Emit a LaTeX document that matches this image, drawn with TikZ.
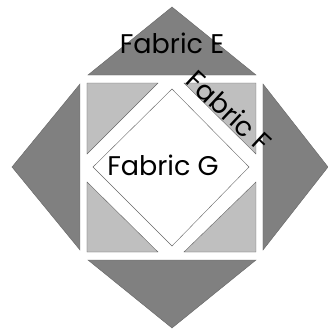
\documentclass[tikz,border=0pt]{standalone}
\usepackage{fontspec}
\setmainfont{Poppins}
\begin{document}
\begin{tikzpicture}[x=1pt,y=1pt,
  outer/.style={fill=black!50,draw=black!60,line width=0.4pt},
  corner/.style={fill=black!25,draw=black!60,line width=0.4pt},
  label/.style={font=\fontsize{27}{31}\selectfont,inner sep=0pt}]
\useasboundingbox (-172,-166) rectangle (156,167);

% outer triangles
\fill[white] (-172,-166) rectangle (156,167);
\draw[outer] (-84,92) -- (0,160) -- (84,92) -- cycle;
\draw[outer] (-84,-93) -- (0,-161) -- (84,-93) -- cycle;
\draw[outer] (-92,83) -- (-160,0) -- (-92,-83) -- cycle;
\draw[outer] (91,83) -- (156,0) -- (91,-83) -- cycle;

% inner square
\draw[corner] (-85,84) -- (-14,84) -- (-85,13) -- cycle;
\draw[corner] (12,84) -- (84,84) -- (84,13) -- cycle;
\draw[corner] (-85,-85) -- (-14,-85) -- (-85,-15) -- cycle;
\draw[corner] (12,-85) -- (84,-85) -- (84,-15) -- cycle;

% centre
\draw[fill=white,draw=black!60,line width=0.4pt] (0,78) -- (77,0) -- (0,-79) -- (-79,0) -- cycle;

\node[label] (fabE) at (0,124) {Fabric E};
\node[label,rotate=-43] (fabF) at (57,56) {Fabric F};
\node[label] (fabG) at (-9,2) {Fabric G};
\end{tikzpicture}
\end{document}
